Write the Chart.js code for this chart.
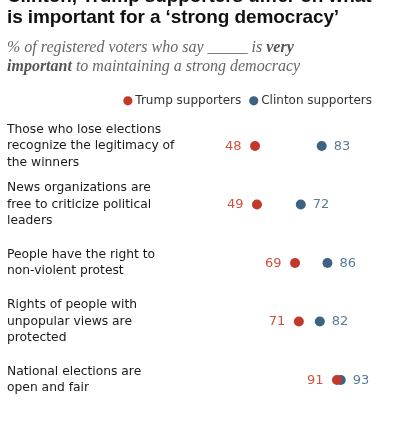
<!DOCTYPE html>
<html>
<head>
<meta charset="utf-8">
<script src="https://cdn.jsdelivr.net/npm/chart.js@4.4.0/dist/chart.umd.min.js"></script>
<style>
  html, body { margin: 0; padding: 0; background: #fff; }
  #wrap { position: relative; width: 394px; height: 434px; overflow: hidden; }
  #head { position: absolute; left: 7px; top: -14px; width: 385px; z-index: 2; }
  h1 { margin: 0; font: bold 19px/20.5px "Liberation Sans", Arial, sans-serif; color: #111; letter-spacing: -0.1px; }
  .sub { margin: 10px 0 0 0; font: italic 16px/19px "Liberation Serif", Georgia, serif; color: #666; }
  .sub b { color: #555; }
  #c { position: absolute; left: 0; top: 0; }
</style>
</head>
<body>
<div id="wrap">
  <div id="head">
    <h1>Clinton, Trump supporters differ on what<br>is important for a ‘strong democracy’</h1>
    <p class="sub">% of registered voters who say _____ is <b>very<br>important</b> to maintaining a strong democracy</p>
  </div>
  <canvas id="c" width="394" height="434"></canvas>
</div>
<script>
// Pew chart – share saying each item is very important, by candidate support

const categories = [
  ["Those who lose elections", "recognize the legitimacy of", "the winners"],
  ["News organizations are", "free to criticize political", "leaders"],
  ["People have the right to", "non-violent protest"],
  ["Rights of people with", "unpopular views are", "protected"],
  ["National elections are", "open and fair"]
];
const trump = [48, 49, 69, 71, 91];
const clinton = [83, 72, 86, 82, 93];

const RED = "#c0392b";
const BLUE = "#3d6283";
const FONT = "'DejaVu Sans', Arial, sans-serif";

// value labels next to the dots
const valueLabels = {
  id: "valueLabels",
  afterDatasetsDraw(chart) {
    const ctx = chart.ctx;
    ctx.save();
    ctx.font = "13px " + FONT;
    ctx.textBaseline = "middle";
    chart.data.datasets.forEach((ds, di) => {
      const meta = chart.getDatasetMeta(di);
      meta.data.forEach((pt, i) => {
        const v = ds.data[i];
        if (di === 0) {
          ctx.fillStyle = "#d0513f";
          ctx.textAlign = "right";
          ctx.fillText(v, pt.x - 13.5, pt.y + 0.5);
        } else {
          ctx.fillStyle = "#5c7b98";
          ctx.textAlign = "left";
          ctx.fillText(v, pt.x + 12, pt.y + 0.5);
        }
      });
    });
    ctx.restore();
  }
};

new Chart(document.getElementById("c"), {
  type: "line",
  data: {
    labels: categories,
    datasets: [
      {
        label: "Trump supporters",
        data: trump,
        showLine: false,
        pointRadius: 5,
        pointHoverRadius: 5,
        pointBackgroundColor: RED,
        pointBorderWidth: 0,
        backgroundColor: RED,
        borderColor: RED
      },
      {
        label: "Clinton supporters",
        data: clinton,
        showLine: false,
        pointRadius: 5,
        pointHoverRadius: 5,
        pointBackgroundColor: BLUE,
        pointBorderWidth: 0,
        backgroundColor: BLUE,
        borderColor: BLUE
      }
    ]
  },
  options: {
    indexAxis: "y",
    responsive: false,
    animation: false,
    layout: { padding: { left: 7, right: 11, top: 83.8, bottom: 24.75 } },
    plugins: {
      legend: {
        position: "top",
        align: "end",
        labels: {
          usePointStyle: true,
          pointStyle: "circle",
          boxWidth: 3,
          boxHeight: 6.5,
          padding: 11,
          color: "#333",
          font: { family: FONT, size: 12 }
        }
      },
      tooltip: { enabled: false }
    },
    scales: {
      x: { type: "linear", min: 7.03, max: 115.17, display: false },
      y: {
        type: "category",
        offset: true,
        grid: { display: false },
        border: { display: false },
        ticks: {
          crossAlign: "far",
          padding: 0,
          color: "#1a1a1a",
          font: { family: FONT, size: 12.3, lineHeight: 1.34 }
        },
        afterFit: s => { s.width = 170; }
      }
    }
  },
  plugins: [valueLabels]
});
</script>
</body>
</html>
